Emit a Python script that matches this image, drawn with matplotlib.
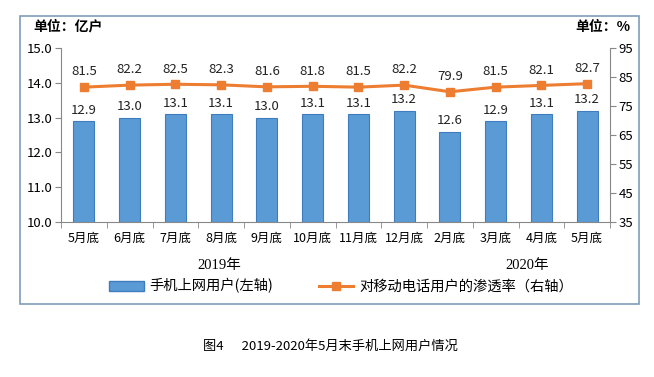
import matplotlib
matplotlib.use("Agg")
import matplotlib.pyplot as plt
from matplotlib.patches import Rectangle
from matplotlib.lines import Line2D

plt.rcParams['font.family'] = ['Noto Sans CJK SC', 'DejaVu Sans']

categories = ["5月底", "6月底", "7月底", "8月底", "9月底", "10月底", "11月底", "12月底",
              "2月底", "3月底", "4月底", "5月底"]
users = [12.9, 13.0, 13.1, 13.1, 13.0, 13.1, 13.1, 13.2, 12.6, 12.9, 13.1, 13.2]
penetration = [81.5, 82.2, 82.5, 82.3, 81.6, 81.8, 81.5, 82.2, 79.9, 81.5, 82.1, 82.7]
left_ticks = [10.0, 11.0, 12.0, 13.0, 14.0, 15.0]
right_ticks = [35, 45, 55, 65, 75, 85, 95]

W, H = 654, 377
fig = plt.figure(figsize=(W/100, H/100), dpi=100)

# outer frame
fig.patches.append(Rectangle((20/W, 1-304/H), (639-20)/W, (304-16)/H,
                             transform=fig.transFigure, fill=False,
                             edgecolor='#7F9DB9', linewidth=1.2))

ax = fig.add_axes([61/W, 1-222/H, (610-61)/W, (222-48)/H])
x = list(range(len(categories)))
ax.bar(x, users, width=0.46, color='#5B9BD5', edgecolor='#3E7CBF', linewidth=0.8, zorder=2)
ax.set_ylim(10, 15)
ax.set_xlim(-0.5, len(categories)-0.5)
ax.set_yticks(left_ticks)
ax.set_yticklabels([f"{v:.1f}" for v in left_ticks], fontsize=9.5)
ax.set_xticks(x)
ax.set_xticklabels(categories, fontsize=9)
ax.tick_params(axis='x', length=0, pad=7)
ax.set_xticks([i + 0.5 for i in range(-1, len(categories))], minor=True)
ax.tick_params(axis='x', which='minor', length=4, color='#888888')
ax.tick_params(axis='y', length=4, color='#888888', pad=2)
for s in ['top', 'right']:
    ax.spines[s].set_visible(False)
ax.spines['left'].set_color('#888888')
ax.spines['bottom'].set_color('#888888')
for xi, v in zip(x, users):
    ax.text(xi, v + 0.12, f"{v:.1f}", ha='center', va='bottom', fontsize=9.5, color='#222222')

ax2 = ax.twinx()
ax2.plot(x, penetration, color='#ED7D31', linewidth=2.2, marker='s', markersize=6,
         markerfacecolor='#ED7D31', markeredgecolor='#ED7D31', zorder=3)
ax2.set_ylim(35, 95)
ax2.set_yticks(right_ticks)
ax2.set_yticklabels([str(v) for v in right_ticks], fontsize=9.5)
ax2.tick_params(axis='y', length=4, color='#888888', pad=2)
for s in ['top', 'left', 'bottom']:
    ax2.spines[s].set_visible(False)
ax2.spines['right'].set_color('#888888')
for xi, v in zip(x, penetration):
    ax2.text(xi, v + 3.0, f"{v:.1f}", ha='center', va='bottom', fontsize=9.5, color='#222222')

# unit labels
fig.text(33/W, 1-27/H, "单位：亿户", fontsize=10, fontweight='bold', va='center', ha='left')
fig.text(630/W, 1-27/H, "单位：%", fontsize=10, fontweight='bold', va='center', ha='right')

# year labels
fig.text(219/W, 1-265/H, "2019年", fontsize=10.5, family=['Liberation Serif', 'Noto Sans CJK SC'],
         ha='center', va='center')
fig.text(527/W, 1-265/H, "2020年", fontsize=10.5, family=['Liberation Serif', 'Noto Sans CJK SC'],
         ha='center', va='center')

# legend
handles = [Rectangle((0, 0), 1, 1, facecolor='#5B9BD5', edgecolor='#3E7CBF'),
           Line2D([0], [0], color='#ED7D31', linewidth=2.2, marker='s', markersize=6)]
fig.legend(handles, ["手机上网用户(左轴)", "对移动电话用户的渗透率（右轴）"],
           loc='center', bbox_to_anchor=(341/W, 1-286/H), ncol=2, frameon=False,
           fontsize=10.3, handlelength=2.4, columnspacing=3.2, handletextpad=0.4)

fig.text(330/W, 1-346/H, "图4      2019-2020年5月末手机上网用户情况", fontsize=9.5,
         ha='center', va='center')

fig.savefig("out.png", dpi=100)
